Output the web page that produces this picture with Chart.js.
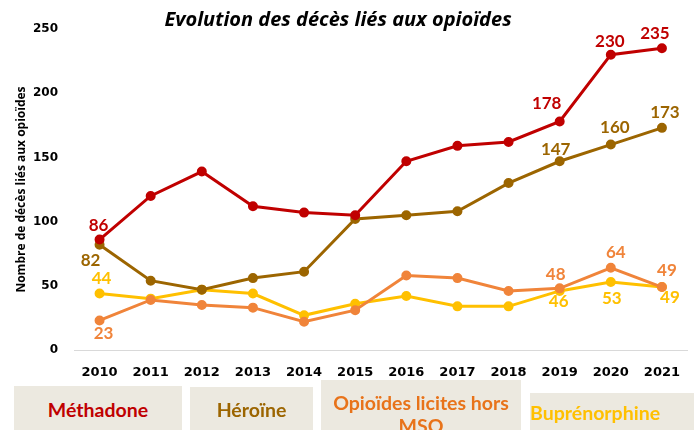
<!DOCTYPE html>
<html lang="fr">
<head>
<meta charset="utf-8">
<title>Evolution des décès liés aux opioïdes</title>
<script src="https://cdn.jsdelivr.net/npm/chart.js@4/dist/chart.umd.min.js"></script>
<style>
    body { margin: 0; background: #fff; }
    #cadre { position: relative; width: 694px; height: 430px; overflow: hidden; }
    #titre {
        position: absolute; left: 0; top: 5px; width: 676px; text-align: center;
        font: italic bold 20px "Open Sans", sans-serif; color: #000;
    }
    .legende {
        position: absolute; background: #ECE9E0; overflow: hidden;
        font: bold 19.5px Lato, sans-serif; text-align: center; line-height: 23px;
        box-sizing: border-box;
    }
</style>
</head>
<body>
<div id="cadre">
    <canvas id="grafico" width="694" height="430"></canvas>
    <div id="titre">Evolution des décès liés aux opioïdes</div>
    <div class="legende" style="left:14px; top:386px; width:168px; height:44px; padding-top:12px; color:#C00000;">Méthadone</div>
    <div class="legende" style="left:190px; top:387px; width:123px; height:43px; padding-top:11px; color:#9C6500;">Héroïne</div>
    <div class="legende" style="left:321px; top:380px; width:200px; height:50px; padding-top:11px; color:#E8731A;">Opioïdes licites hors MSO</div>
    <div class="legende" style="left:530px; top:393px; width:164px; height:37px; padding-top:8px; text-align:left; color:#FFC000;">Buprénorphine</div>
</div>
<script>
// Données du graphique
const annees = ['2010', '2011', '2012', '2013', '2014', '2015', '2016', '2017', '2018', '2019', '2020', '2021'];
const methadone = [86, 120, 139, 112, 107, 105, 147, 159, 162, 178, 230, 235];
const heroine = [82, 54, 47, 56, 61, 102, 105, 108, 130, 147, 160, 173];
const opioidesLicites = [23, 39, 35, 33, 22, 31, 58, 56, 46, 48, 64, 49];
const buprenorphine = [44, 40, 47, 44, 27, 36, 42, 34, 34, 46, 53, 49];
// Points avec une étiquette de valeur
const pointsEtiquetes = [0, 9, 10, 11];

// Décalage des étiquettes (dx, dy) par série
const decalages = [
    [[-1, -14], [-13, -18], [-1, -13], [-7, -15]],
    [[-9, 16], [-4, -12], [4, -17], [3, -15]],
    [[4, 13], [-4, -14], [5, -15], [5, -17]],
    [[2, -15], [-1, 11], [1, 17], [8, 10]]
];

// Plugin pour dessiner les étiquettes de valeurs
const etiquettes = {
    id: 'etiquettes',
    afterDatasetsDraw(chart) {
        const ctx = chart.ctx;
        ctx.save();
        ctx.font = 'bold 17px Lato, sans-serif';
        ctx.textAlign = 'center';
        ctx.textBaseline = 'middle';
        chart.data.datasets.forEach((ds, i) => {
            const meta = chart.getDatasetMeta(i);
            pointsEtiquetes.forEach((idx, k) => {
                const p = meta.data[idx];
                ctx.fillStyle = ds.borderColor;
                ctx.fillText(ds.data[idx], p.x + decalages[i][k][0], p.y + decalages[i][k][1]);
            });
        });
        ctx.restore();
    }
};

function serie(label, data, couleur) {
    return {
        label: label,
        data: data,
        borderColor: couleur,
        backgroundColor: couleur,
        borderWidth: 3,
        pointRadius: 3.5,
        pointHoverRadius: 3.5,
        tension: 0
    };
}

const ctx = document.getElementById('grafico').getContext('2d');
const myChart = new Chart(ctx, {
    type: 'line',
    data: {
        labels: annees,
        datasets: [
            serie('Méthadone', methadone, '#C00000'),
            serie('Héroïne', heroine, '#9C6500'),
            serie('Opioïdes licites hors MSO', opioidesLicites, '#F0843A'),
            serie('Buprénorphine', buprenorphine, '#FFC000')
        ]
    },
    options: {
        responsive: false,
        animation: false,
        layout: { padding: { left: 4, right: 0, top: 29, bottom: 48 } },
        plugins: {
            legend: { display: false },
            title: { display: false },
            tooltip: { enabled: false }
        },
        scales: {
            x: {
                offset: true,
                grid: { display: false },
                border: { display: true, color: '#D9D9D9', width: 1 },
                ticks: { color: '#000', font: { family: 'DejaVu Sans', weight: 'bold', size: 13 }, padding: 7 },
                afterFit: s => { s.height = 32; }
            },
            y: {
                min: 0,
                max: 250,
                grid: { display: false },
                border: { display: false },
                ticks: { stepSize: 50, color: '#000', font: { family: 'DejaVu Sans', weight: 'bold', size: 12 }, padding: 8 },
                title: {
                    display: true,
                    text: 'Nombre de décès liés aux opioïdes',
                    color: '#000',
                    font: { family: 'Open Sans', weight: 'bold', size: 12 },
                    padding: { top: 10, bottom: 0 }
                },
                afterFit: s => { s.width = 70; }
            }
        }
    },
    plugins: [etiquettes]
});
</script>
</body>
</html>
